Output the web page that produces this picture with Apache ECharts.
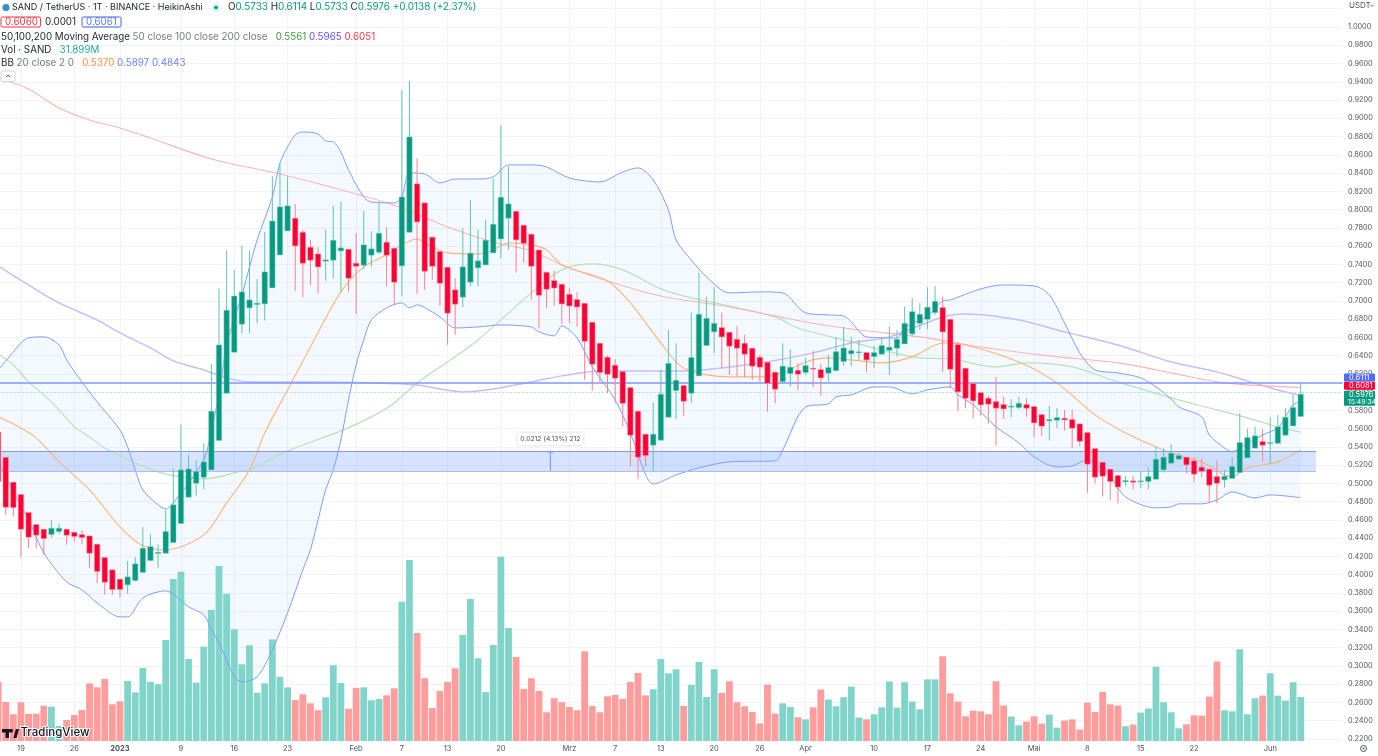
<!DOCTYPE html>
<html>
<head>
<meta charset="utf-8">
<title>SAND / TetherUS</title>
<style>
html, body { margin: 0; padding: 0; background: #fff; }
#chart { width: 1378px; height: 756px; }
</style>
<script src="https://cdn.jsdelivr.net/npm/echarts@6/dist/echarts.min.js"></script>
</head>
<body>
<div id="chart"></div>
<script>
// daily bars, Dec 16 2022 = day 0, Jun 5 2023 = day 171
var opens = [.5564,.5286,.5013,.4878,.4681,.4549,.4498,.4440,.4473,.4498,
.4465,.4440,.4425,.4334,.4188,.4053,.3951,.3889,.3936,.4024,
.4155,.4232,.4235,.4352,.4560,.4849,.5002,.5067,.5148,.5470,
.5988,.6437,.6744,.6923,.6959,.6967,.7142,.7503,.7766,.7905,
.7751,.7587,.7514,.7434,.7445,.7547,.7565,.7412,.7390,.7500,
.7532,.7642,.7576,.7383,.7751,.8281,.8073,.7697,.7540,.7368,
.7120,.7040,.7204,.7361,.7394,.7525,.7678,.7905,.7981,.7828,
.7730,.7557,.7313,.7222,.7182,.7072,.7014,.6973,.6765,.6535,
.6382,.6295,.6225,.6050,.5791,.5539,.5419,.5473,.5725,.6017,
.6072,.5988,.6178,.6510,.6660,.6707,.6656,.6579,.6535,.6481,
.6382,.6327,.6218,.6116,.6203,.6240,.6214,.6262,.6247,.6207,
.6236,.6335,.6419,.6430,.6433,.6389,.6415,.6459,.6481,.6528,
.6638,.6754,.6798,.6871,.6926,.6798,.6521,.6262,.6094,.5995,
.5933,.5897,.5864,.5835,.5831,.5864,.5842,.5754,.5685,.5692,
.5714,.5700,.5652,.5557,.5382,.5232,.5156,.5086,.5017,.5028,
.5021,.5021,.5046,.5148,.5221,.5265,.5287,.5247,.5178,.5156,
.5075,.5039,.5054,.5119,.5280,.5386,.5459,.5437,.5440,.5528,
.5630,.5733];
var closes = [.5020,.4739,.4735,.4498,.4411,.4433,.4396,.4509,.4509,.4433,
.4418,.4407,.4235,.4035,.3918,.3838,.3838,.3976,.4119,.4290,
.4308,.4246,.4473,.4765,.5148,.5159,.5130,.5235,.5791,.6517,
.6897,.7053,.7098,.7010,.6974,.7317,.7875,.8029,.8040,.7602,
.7412,.7445,.7372,.7449,.7664,.7580,.7248,.7379,.7613,.7569,
.7740,.7500,.7204,.8138,.8795,.7865,.7324,.7379,.7193,.6865,
.6963,.7372,.7522,.7438,.7664,.7839,.8135,.8062,.7668,.7631,
.7379,.7061,.7127,.7141,.6966,.6944,.6933,.6557,.6306,.6214,
.6196,.6152,.5878,.5528,.5287,.5305,.5539,.5977,.6316,.6130,
.5900,.6379,.6853,.6809,.6754,.6605,.6503,.6481,.6415,.6284,
.6273,.6097,.6032,.6284,.6273,.6196,.6291,.6251,.6156,.6269,
.6444,.6484,.6455,.6441,.6353,.6433,.6510,.6492,.6579,.6754,
.6882,.6853,.6930,.6995,.6660,.6251,.6003,.5933,.5904,.5860,
.5868,.5824,.5816,.5846,.5878,.5824,.5663,.5627,.5700,.5722,
.5696,.5605,.5462,.5211,.5068,.5079,.5021,.4959,.5032,.5013,
.5028,.5075,.5265,.5287,.5330,.5305,.5203,.5101,.5134,.4981,
.5002,.5079,.5185,.5448,.5503,.5521,.5419,.5448,.5619,.5725,
.5831,.5976];
var lows = [.4950,.4655,.4637,.4188,.4294,.4290,.4217,.4411,.4447,.4327,
.4363,.4334,.4071,.3907,.3779,.3779,.3750,.3790,.3925,.4024,
.4155,.4071,.4235,.4352,.4560,.4849,.4867,.4936,.5148,.5470,
.5988,.6437,.6645,.6645,.6755,.6784,.7142,.7503,.7766,.7109,
.7040,.7171,.7083,.7222,.7248,.7098,.7102,.6854,.7346,.7375,
.7514,.7157,.6963,.7054,.7751,.7076,.7120,.7230,.6945,.6520,
.6627,.6930,.7157,.7157,.7394,.7525,.7467,.7558,.7310,.7420,
.7010,.6700,.6919,.6944,.6744,.6754,.6718,.6134,.6017,.6105,
.5988,.5878,.5623,.5185,.5046,.5185,.5130,.5473,.5725,.5703,
.5740,.5886,.6178,.6510,.6426,.6262,.6189,.6170,.6163,.6134,
.6116,.5787,.5878,.6097,.6061,.6024,.6189,.6054,.5959,.6116,
.6225,.6287,.6287,.6353,.6218,.6262,.6415,.6189,.6389,.6528,
.6608,.6681,.6689,.6846,.6222,.6043,.5787,.5824,.5714,.5740,
.5649,.5411,.5707,.5725,.5813,.5732,.5506,.5521,.5470,.5605,
.5579,.5386,.5404,.4900,.5002,.4856,.4820,.4783,.4973,.4937,
.4948,.4937,.5039,.5119,.5221,.5250,.5112,.5013,.5068,.4783,
.4783,.4955,.5054,.5119,.5280,.5386,.5240,.5221,.5430,.5528,
.5630,.5733];
var highs = [.5564,.5286,.5013,.4878,.4681,.4549,.4498,.4600,.4557,.4498,
.4465,.4484,.4425,.4334,.4188,.4053,.3951,.4148,.4192,.4520,
.4443,.4334,.4710,.5166,.5641,.5312,.5257,.5440,.6309,.7137,
.7551,.7339,.7602,.7551,.7237,.7755,.8368,.8507,.8361,.8062,
.7777,.7668,.7587,.7777,.8040,.8084,.7565,.7740,.7985,.7762,
.8087,.7806,.7576,.9310,.9408,.8562,.8073,.7697,.7540,.7368,
.7248,.7795,.8105,.7777,.7887,.8339,.8927,.8471,.7981,.7828,
.7730,.7557,.7313,.7328,.7182,.7145,.7094,.6973,.6765,.6535,
.6400,.6360,.6225,.6050,.5791,.5539,.5886,.6243,.6681,.6535,
.6072,.6871,.7309,.7046,.7149,.6871,.6656,.6725,.6627,.6481,
.6408,.6327,.6218,.6535,.6470,.6316,.6371,.6455,.6309,.6408,
.6601,.6718,.6608,.6572,.6433,.6506,.6590,.6718,.6681,.6937,
.7028,.6973,.7149,.7163,.7046,.6798,.6550,.6262,.6094,.5995,
.5959,.6170,.5951,.5922,.5951,.5933,.5842,.5754,.5849,.5824,
.5805,.5805,.5652,.5557,.5382,.5232,.5156,.5086,.5083,.5083,
.5130,.5178,.5404,.5386,.5429,.5330,.5287,.5276,.5273,.5156,
.5251,.5148,.5287,.5769,.5597,.5623,.5597,.5725,.5751,.5824,
.5970,.6114];
// volume in millions
var volumes = [43.0,28.3,19.4,28.1,19.6,19.8,25.6,24.9,10.9,15.2,
18.9,22.5,41.8,38.9,45.0,26.6,28.8,43.5,35.3,52.9,
42.8,41.1,73.2,117.5,122.7,59.5,42.3,68.4,95.0,126.9,
106.8,81.0,55.6,69.4,35.0,41.8,73.7,46.6,38.9,29.7,
33.9,27.3,22.3,31.7,54.9,42.1,23.4,38.4,38.9,29.5,
30.5,33.1,38.2,101.0,131.2,78.3,45.5,23.9,36.3,42.8,
52.7,76.9,103.0,60.0,35.5,69.6,133.6,81.9,60.9,37.7,
45.5,36.3,20.8,31.0,28.1,24.7,22.3,65.0,25.4,20.8,
32.4,33.4,30.5,42.8,49.3,33.1,37.5,59.5,49.1,52.0,
25.4,40.6,57.3,31.9,52.0,34.8,43.3,28.1,25.2,21.0,
12.8,40.9,19.9,27.3,24.7,17.2,15.7,24.4,37.3,30.0,
25.2,31.7,39.4,17.0,15.7,19.4,24.4,43.1,24.2,42.6,
28.6,23.0,44.7,44.7,61.4,34.6,28.6,17.9,22.0,21.5,
19.4,43.3,25.7,17.7,11.4,14.1,17.9,12.6,19.1,9.7,
14.8,15.7,8.3,27.8,21.0,35.5,26.6,25.7,10.7,11.9,
20.6,23.5,53.9,28.1,20.8,9.2,12.1,18.6,18.4,32.2,
57.6,22.3,21.5,66.5,19.4,31.0,32.9,49.1,32.9,29.3,
42.6,31.9];

// indicator lines, [day, value]
var ma50 = [[0,.6419],[2,.6298],[4,.6112],[6,.5970],[8,.5805],[10,.5619],[12,.5509],[14,.5389],[18,.5225],[21,.5126],[24,.5071],[27,.5049],[29,.5071],[32,.5137],[33,.5148],[38,.5356],[45,.5575],[49,.5729],[52,.5882],[55,.6101],[59,.6331],[63,.6572],[70,.7087],[74,.7339],[78,.7404],[82,.7339],[87,.7131],[91,.7032],[96,.6944],[102,.6824],[105,.6703],[112,.6550],[116,.6462],[121,.6375],[125,.6364],[131,.6276],[135,.6320],[141,.6276],[147,.6112],[154,.5937],[160,.5805],[164,.5718],[168,.5619],[171,.5561]];
var ma100 = [[0,.7383],[4,.7174],[8,.6977],[13,.6791],[16,.6649],[20,.6484],[23,.6342],[27,.6243],[30,.6156],[33,.6112],[41,.6112],[50,.6101],[55,.6079],[58,.6035],[61,.6002],[65,.6035],[70,.6112],[74,.6178],[79,.6232],[83,.6232],[90,.6232],[100,.6320],[107,.6430],[112,.6539],[117,.6605],[124,.6824],[127,.6857],[134,.6791],[140,.6660],[147,.6517],[154,.6331],[160,.6222],[164,.6123],[168,.6024],[171,.5965]];
var ma200 = [[0,.9442],[4,.9321],[8,.9113],[12,.8981],[16,.8894],[20,.8784],[28,.8554],[37,.8390],[48,.8149],[53,.8018],[59,.7810],[65,.7645],[70,.7547],[74,.7393],[80,.7218],[87,.7054],[96,.6933],[102,.6835],[106,.6769],[112,.6692],[121,.6605],[129,.6495],[138,.6397],[147,.6320],[154,.6211],[160,.6112],[164,.6079],[171,.6051]];
var bbBasis = [[0,.5729],[3,.5608],[5,.5499],[8,.5236],[12,.4929],[16,.4524],[19,.4316],[22,.4272],[27,.4436],[30,.4787],[33,.5148],[35,.5553],[38,.6024],[41,.6495],[45,.7098],[48,.7372],[51,.7503],[53,.7613],[55,.7678],[56,.7634],[59,.7525],[63,.7514],[65,.7558],[67,.7634],[70,.7613],[72,.7558],[74,.7393],[80,.7218],[83,.6977],[87,.6539],[90,.6265],[96,.6167],[100,.6167],[103,.6211],[106,.6331],[109,.6375],[112,.6353],[116,.6320],[120,.6386],[124,.6539],[127,.6517],[134,.6331],[139,.6101],[144,.5751],[148,.5553],[152,.5400],[154,.5334],[158,.5236],[162,.5071],[164,.5170],[168,.5236],[171,.5370]];
var bbUpper = [[0,.6243],[2,.6441],[3,.6539],[4,.6594],[6,.6605],[8,.6517],[9,.6353],[11,.6112],[13,.5893],[16,.5586],[17,.5400],[18,.5148],[19,.4929],[21,.4765],[22,.4721],[23,.4787],[27,.5258],[28,.5586],[29,.5970],[30,.6517],[32,.7065],[34,.7667],[36,.8138],[37,.8511],[38,.8686],[39,.8817],[40,.8850],[42,.8828],[43,.8752],[44,.8741],[45,.8631],[46,.8434],[48,.8138],[49,.8083],[52,.8073],[53,.8138],[54,.8401],[56,.8390],[58,.8292],[60,.8335],[63,.8335],[65,.8357],[67,.8489],[70,.8489],[72,.8467],[75,.8346],[79,.8303],[82,.8412],[84,.8456],[86,.8324],[88,.7996],[89,.7667],[91,.7448],[93,.7262],[96,.7087],[100,.7098],[103,.7087],[106,.6868],[109,.6846],[111,.6835],[112,.6769],[114,.6605],[118,.6594],[119,.6703],[122,.6835],[124,.6999],[125,.7010],[129,.7131],[132,.7174],[136,.7163],[138,.7065],[140,.6758],[142,.6430],[144,.6243],[147,.6211],[150,.6156],[152,.6057],[154,.5926],[155,.5838],[158,.5729],[159,.5531],[161,.5389],[162,.5345],[163,.5389],[166,.5531],[168,.5608],[169,.5729],[170,.5860],[171,.5897]];
var bbLower = [[0,.5236],[2,.4907],[4,.4600],[6,.4239],[9,.3921],[11,.3834],[13,.3691],[16,.3538],[17,.3538],[19,.3746],[22,.3823],[25,.3648],[27,.3560],[28,.3396],[29,.3253],[31,.2881],[32,.2826],[34,.2881],[36,.3177],[38,.3582],[40,.4053],[41,.4272],[42,.4600],[43,.4929],[44,.5148],[45,.5477],[46,.5915],[47,.6298],[48,.6572],[49,.6791],[51,.6923],[53,.6977],[54,.6923],[55,.6955],[57,.6879],[58,.6824],[60,.6703],[63,.6714],[66,.6736],[70,.6714],[71,.6660],[73,.6616],[74,.6725],[76,.6594],[78,.6276],[81,.5915],[83,.5553],[85,.5093],[86,.4995],[89,.5093],[92,.5170],[96,.5236],[102,.5247],[103,.5367],[106,.5838],[109,.5871],[110,.5948],[112,.5970],[115,.6057],[117,.6057],[120,.5981],[122,.6024],[125,.6057],[126,.5970],[128,.5860],[131,.5619],[134,.5444],[136,.5290],[139,.5181],[141,.5192],[143,.5258],[146,.5071],[148,.4852],[152,.4732],[154,.4743],[155,.4776],[158,.4776],[160,.4819],[162,.4907],[165,.4841],[167,.4874],[171,.4843]];

var tickDays = [3,10,16,24,31,38,47,53,59,66,75,81,87,94,100,106,115,122,129,136,143,150,157,167];
var tickNames = ['19','26','2023','9','16','23','Feb','7','13','20','Mrz','7','13','20','26','Apr','10','17','24','Mai','8','15','22','Jun'];

var lastPrice = .5976;
var alertPrice = .6111;
var tagPrices = [.6111,.6081,.5976];
var tagTexts = ['0.6111','0.6081','0.5976'];
var rangeTop = .5356;
var rangeBottom = .5137;
var measureDay = 72;
var measureText = '0.0212 (4.13%) 212';

var dayCount = 177;
var categories = [];
for (var d = 0; d < dayCount; d++) categories.push(String(d));

var upColor = '#089981', downColor = '#ff0033';
var upWick = '#60c5b3', downWick = '#f8818f';
var font = 'Inter, "Noto Sans", sans-serif';

function renderCandle(params, api) {
    var i = api.value(0), o = api.value(1), c = api.value(2), l = api.value(3), h = api.value(4);
    var x = api.coord([i, o])[0];
    var top = api.coord([i, Math.max(o, c)])[1];
    var bottom = api.coord([i, Math.min(o, c)])[1];
    var up = c >= o;
    return {
        type: 'group',
        children: [{
            type: 'line',
            shape: {x1: x, y1: api.coord([i, h])[1], x2: x, y2: api.coord([i, l])[1]},
            style: {stroke: up ? upWick : downWick, lineWidth: 1}
        }, {
            type: 'rect',
            shape: {x: x - 2.7, y: top, width: 5.4, height: Math.max(bottom - top, 1)},
            style: {fill: up ? upColor : downColor, stroke: up ? '#7fcfc0' : '#ff8fa3', lineWidth: 0.5}
        }]
    };
}

// fill between the upper and lower band
function renderBand(params, api) {
    var pts = [];
    bbUpper.forEach(function (p) { pts.push(api.coord(p)); });
    for (var k = bbLower.length - 1; k >= 0; k--) pts.push(api.coord(bbLower[k]));
    return {type: 'polygon', shape: {points: pts}, style: {fill: 'rgba(33,150,243,0.055)'}};
}

// the measure tool sits halfway between two days
function renderMeasure(params, api) {
    var a = api.coord([measureDay, rangeBottom]);
    var b = api.coord([measureDay + 1, rangeTop]);
    var x = (a[0] + b[0]) / 2;
    return {
        type: 'group',
        children: [{
            type: 'line',
            shape: {x1: x, y1: a[1], x2: x, y2: b[1]},
            style: {stroke: '#6f8cff', lineWidth: 1}
        }, {
            type: 'polyline',
            shape: {points: [[x - 2.5, b[1] + 2.5], [x, b[1]], [x + 2.5, b[1] + 2.5]]},
            style: {stroke: '#6f8cff', lineWidth: 1, fill: null}
        }, {
            type: 'rect',
            shape: {x: x - 33, y: b[1] - 18, width: 66, height: 12, r: 2},
            style: {fill: '#fff', shadowBlur: 3, shadowColor: 'rgba(0,0,0,0.2)'}
        }, {
            type: 'text',
            style: {x: x, y: b[1] - 12, text: measureText, fill: '#50535e', fontSize: 6.8, fontFamily: font, align: 'center', verticalAlign: 'middle'}
        }]
    };
}

// price tags on the right axis, nudged apart like the original
var tagNudge = [-4.5, 1, 4];
var tagFill = ['#4f6bff', '#ff0033', '#089981'];
function renderTag(params, api) {
    var k = params.dataIndex;
    var y = api.coord([0, api.value(1)])[1] + tagNudge[k];
    var big = k === 2;
    var children = [{
        type: 'rect',
        shape: {x: 1344, y: y - (big ? 7.5 : 4), width: 31, height: big ? 15 : 8, r: 1},
        style: {fill: tagFill[k]}
    }, {
        type: 'text',
        style: {x: 1349, y: big ? y - 3.5 : y, text: tagTexts[k], fill: '#fff', fontSize: 7.5, fontFamily: font, verticalAlign: 'middle'}
    }];
    if (big) children.push({
        type: 'text',
        style: {x: 1348, y: y + 3.5, text: '15:49:34', fill: '#fff', fontSize: 6.8, fontFamily: font, verticalAlign: 'middle'}
    });
    return {type: 'group', children: children};
}

function lineSeries(name, data, color, width, z) {
    return {
        name: name, type: 'line', data: data, xAxisIndex: 0, yAxisIndex: 0,
        smooth: 0.3, symbol: 'none', silent: true, z: z,
        lineStyle: {color: color, width: width}
    };
}

// header text, one rich text per row
function headRow(x, y, parts, size) {
    var rich = {}, text = '';
    parts.forEach(function (p, n) {
        rich['s' + n] = {fill: p[1], fontSize: size || 9.8, fontFamily: font, fontWeight: 400};
        text += '{s' + n + '|' + p[0] + '}';
    });
    return {type: 'text', x: x, y: y, z: 50, style: {text: text, rich: rich, verticalAlign: 'middle'}};
}
var dark = '#1e222d', grey = '#787b86', teal = '#089981';
var headGraphics = [
    {type: 'circle', z: 50, shape: {cx: 6, cy: 7.5, r: 3.5}, style: {fill: '#2f8fd0'}},
    headRow(12, 7.5, [['SAND / TetherUS · 1T · BINANCE · HeikinAshi', dark]], 9),
    {type: 'circle', z: 50, shape: {cx: 216, cy: 7.5, r: 4}, style: {fill: '#d5efea'}},
    {type: 'circle', z: 50, shape: {cx: 216, cy: 7.5, r: 1.8}, style: {fill: teal}},
    headRow(228, 7.5, [['O', dark], ['0.5733 ', teal], ['H', dark], ['0.6114 ', teal], ['L', dark], ['0.5733 ', teal], ['C', dark], ['0.5976 +0.0138 (+2.37%)', teal]], 9.9),
    {type: 'rect', z: 50, shape: {x: 1, y: 17, width: 39.5, height: 10, r: 1.5}, style: {fill: '#fff', stroke: '#f23645', lineWidth: 1}},
    headRow(5, 22.3, [['0.6060', '#f23645']]),
    headRow(45, 22.3, [['0.0001', dark]]),
    {type: 'rect', z: 50, shape: {x: 82, y: 17, width: 39, height: 10, r: 1.5}, style: {fill: '#fff', stroke: '#3f5fe0', lineWidth: 1}},
    headRow(86, 22.3, [['0.6061', '#5b7cf0']]),
    headRow(1, 37, [['50,100,200 Moving Average ', dark], ['50 close 100 close 200 close   ', grey], ['0.5561 ', '#3f9b3f'], ['0.5965 ', '#5f4bff'], ['0.6051', '#f23645']]),
    headRow(1, 50, [['Vol · SAND   ', dark], ['31.899M', '#26a69a']]),
    headRow(1, 63, [['BB ', dark], ['20 close 2 0   ', grey], ['0.5370 ', '#ff9147'], ['0.5897 ', '#6f86ff'], ['0.4843', '#6f86ff']]),
    {type: 'rect', z: 50, shape: {x: 1, y: 71, width: 14, height: 10.5, r: 1.5}, style: {fill: '#fff', stroke: '#d1d4dc', lineWidth: 1}},
    {type: 'polyline', z: 51, shape: {points: [[6, 77], [8, 75], [10, 77]]}, style: {stroke: '#50535e', lineWidth: 1, fill: null}},
    // logo
    {type: 'rect', z: 50, shape: {x: 2, y: 729, width: 10, height: 3.5}, style: {fill: '#131722'}},
    {type: 'rect', z: 50, shape: {x: 5.5, y: 729, width: 3.5, height: 9}, style: {fill: '#131722'}},
    {type: 'circle', z: 50, shape: {cx: 11.5, cy: 730.7, r: 1.6}, style: {fill: '#131722'}},
    {type: 'polygon', z: 50, shape: {points: [[13.5, 738], [15.8, 729], [19, 729], [16.6, 738]]}, style: {fill: '#131722'}},
    {type: 'text', x: 20.5, y: 733, z: 50, style: {text: 'TradingView', fill: '#131722', fontSize: 11.5, fontWeight: 500, fontFamily: font, verticalAlign: 'middle', stroke: '#fff', lineWidth: 2}},
    // scale corner
    {type: 'text', x: 1349, y: 5.5, z: 50, style: {text: 'USDT', fill: '#50535e', fontSize: 8, fontFamily: font, verticalAlign: 'middle'}},
    {type: 'polyline', z: 50, shape: {points: [[1370, 4.5], [1372, 6.5], [1374, 4.5]]}, style: {stroke: '#50535e', lineWidth: 0.8, fill: null}},
    {type: 'circle', z: 50, shape: {cx: 1363.5, cy: 748.5, r: 3}, style: {fill: '#fff', stroke: '#50535e', lineWidth: 1}},
    {type: 'circle', z: 50, shape: {cx: 1363.5, cy: 748.5, r: 1}, style: {fill: '#50535e'}}
];

var option = {
    animation: false,
    backgroundColor: '#fff',
    textStyle: {fontFamily: font},
    grid: [
        {left: -5.7, width: 1348.3, top: 8.74, height: 730.26, outerBoundsMode: 'none'},
        {left: -5.7, width: 1348.3, top: 0, height: 741, outerBoundsMode: 'none'}
    ],
    xAxis: [{
        type: 'category', gridIndex: 0, data: categories,
        axisLine: {show: false}, axisTick: {show: false}, axisLabel: {show: false}, splitLine: {show: false}
    }, {
        type: 'category', gridIndex: 1, data: categories,
        axisLine: {show: false},
        axisTick: {show: false, alignWithLabel: true, interval: function (i) { return tickDays.indexOf(i) >= 0; }},
        axisLabel: {
            interval: function (i) { return tickDays.indexOf(i) >= 0; },
            formatter: function (v, i) {
                var n = tickDays.indexOf(i);
                if (n < 0) return '';
                return tickNames[n] === '2023' ? '{b|2023}' : tickNames[n];
            },
            rich: {b: {fontWeight: 700, fontSize: 7.5, color: '#50535e', fontFamily: font}},
            color: '#50535e', fontSize: 7.5, margin: 4, hideOverlap: false
        },
        splitLine: {
            show: true, alignWithLabel: true,
            interval: function (i) { return tickDays.indexOf(i) >= 0; },
            lineStyle: {color: '#f2f3f5', width: 1}
        }
    }],
    yAxis: [{
        type: 'value', gridIndex: 0, position: 'right',
        min: 0.22, max: 1.02, interval: 0.02,
        axisLine: {show: false}, axisTick: {show: false},
        axisLabel: {
            color: '#50535e', fontSize: 7.3, margin: 5.4,
            formatter: function (v) { return v > 1.01 ? '' : v.toFixed(4); }
        },
        splitLine: {lineStyle: {color: '#f2f3f5', width: 1}}
    }, {
        type: 'value', gridIndex: 1, min: 0, max: 537.2,
        axisLine: {show: false}, axisTick: {show: false}, axisLabel: {show: false}, splitLine: {show: false}
    }],
    graphic: headGraphics,
    series: [
        {
            name: 'Band', type: 'custom', renderItem: renderBand, data: [[0, .5]],
            xAxisIndex: 0, yAxisIndex: 0, silent: true, z: 1
        },
        {
            name: 'Vol', type: 'bar', xAxisIndex: 1, yAxisIndex: 1, barWidth: 6.8, silent: true, z: 2,
            data: volumes.map(function (v, i) {
                return {value: v, itemStyle: {color: closes[i] >= opens[i] ? '#80d4ca' : '#ff9d9d'}};
            })
        },
        {
            name: 'Levels', type: 'line', data: [], xAxisIndex: 0, yAxisIndex: 0, z: 3, silent: true,
            markArea: {
                silent: true,
                itemStyle: {color: 'rgba(41,98,255,0.18)'},
                data: [[{xAxis: 0, yAxis: rangeTop}, {xAxis: 173, yAxis: rangeBottom}]]
            },
            markLine: {
                silent: true, symbol: 'none', animation: false,
                label: {show: false},
                data: [
                    {yAxis: alertPrice, lineStyle: {color: '#7d97ff', width: 1.6, type: 'solid'}},
                    {yAxis: lastPrice, lineStyle: {color: '#a3e2d6', width: 1, type: [1.5, 2.5]}},
                    [{coord: [0, rangeTop], lineStyle: {color: '#7d97ff', width: 1.2, type: 'solid'}}, {coord: [173, rangeTop]}],
                    [{coord: [0, rangeBottom], lineStyle: {color: '#a9bcff', width: 1, type: 'solid'}}, {coord: [173, rangeBottom]}]
                ]
            }
        },
        {
            name: 'Measure', type: 'custom', renderItem: renderMeasure, data: [[measureDay, rangeTop]],
            xAxisIndex: 0, yAxisIndex: 0, silent: true, z: 4
        },
        lineSeries('MA50', ma50, '#b7e2b8', 1.2, 4),
        lineSeries('MA100', ma100, '#c6bcff', 1.5, 4),
        lineSeries('MA200', ma200, '#ffb4b4', 1.1, 4),
        lineSeries('BB basis', bbBasis, '#ffb37f', 1.1, 4),
        lineSeries('BB upper', bbUpper, '#7f9dff', 1, 4),
        lineSeries('BB lower', bbLower, '#7f9dff', 1, 4),
        {
            name: 'SAND', type: 'custom', renderItem: renderCandle, xAxisIndex: 0, yAxisIndex: 0, silent: true, z: 5,
            encode: {x: 0, y: [1, 2, 3, 4]},
            data: opens.map(function (o, i) { return [i, o, closes[i], lows[i], highs[i]]; })
        },
        {
            name: 'Tags', type: 'custom', renderItem: renderTag, xAxisIndex: 0, yAxisIndex: 0, silent: true, z: 6,
            data: tagPrices.map(function (p, i) { return [i, p]; })
        }
    ]
};

var chart = echarts.init(document.getElementById('chart'), null, {renderer: 'canvas', width: 1378, height: 756});
chart.setOption(option);
</script>
</body>
</html>
